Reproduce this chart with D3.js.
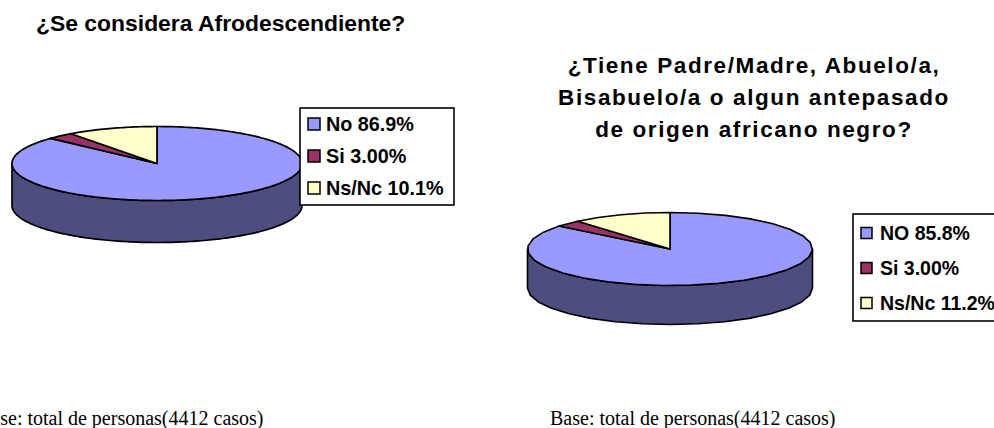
<!DOCTYPE html>
<html><head><meta charset="utf-8">
<script src="https://cdn.jsdelivr.net/npm/d3@7"></script>
<style>html,body{margin:0;padding:0;background:#fff;overflow:hidden}svg{display:block}</style>
</head><body><svg id="c" width="994" height="428"></svg>
<script>
const categoriesLeft = ["No","Si","Ns/Nc"];
const valuesLeft = [86.9,3.0,10.1];
const labelsLeft = ["86.9%","3.00%","10.1%"];
const categoriesRight = ["NO","Si","Ns/Nc"];
const valuesRight = [85.8,3.0,11.2];
const labelsRight = ["85.8%","3.00%","11.2%"];
const colors = ["#9999ff","#993366","#ffffcc"];
const sideColor = "#4d4d80";
const titleLeft = ["¿Se considera Afrodescendiente?"];
const titleRight = ["¿Tiene Padre/Madre, Abuelo/a,","Bisabuelo/a o algun antepasado","de origen africano negro?"];
const footer = "Base: total de personas(4412 casos)";

const svg = d3.select("#c");
const SANS = "'Liberation Sans',Arial,sans-serif", SERIF = "'Liberation Serif','Times New Roman',serif";

function drawPie(vals, g){
  const pie = d3.pie().sort(null).value(d=>d)(vals);
  const pt = a => [g.cx + g.rx*Math.sin(a), g.cy - g.ry*Math.cos(a)];
  const n = g.step;
  const angles = (a0,a1)=>{const k=Math.max(1,Math.round((a1-a0)/n));return d3.range(k+1).map(i=>a0+(a1-a0)*i/k)};
  const line = d3.line().curve(g.curve);
  const lower = angles(Math.PI/2, 3*Math.PI/2);
  const top = lower.map(pt);
  const bottom = lower.map(pt).map(p=>[p[0],p[1]+g.depth]).reverse();
  const wall = line(top) + "L" + line(bottom).slice(1) + "Z";
  svg.append("path").attr("d",wall).attr("fill",sideColor).attr("stroke","#000").attr("stroke-width",g.sw).attr("stroke-linejoin","round");
  svg.selectAll(null).data(pie).join("path")
    .attr("d",d=>{
      const rim = angles(d.startAngle,d.endAngle).map(pt);
      return "M"+g.cx+","+g.cy+"L"+line(rim).slice(1)+"Z";
    })
    .attr("fill",(d,i)=>colors[i]).attr("stroke","#000").attr("stroke-width",g.sw).attr("stroke-linejoin","round");
}
function drawLegend(cats, labels, L){
  svg.append("rect").attr("x",L.x).attr("y",L.y).attr("width",L.w).attr("height",L.h)
    .attr("fill","#fff").attr("stroke","#000").attr("stroke-width",1.6);
  cats.forEach((c,i)=>{
    const y = L.y0 + i*L.dy;
    svg.append("rect").attr("x",L.sx).attr("y",y-L.ss/2).attr("width",L.ss).attr("height",L.ss)
      .attr("fill",colors[i]).attr("stroke","#000").attr("stroke-width",1.5);
    svg.append("text").attr("x",L.tx).attr("y",y+L.fs*0.36).attr("font-family",SANS).attr("font-weight","bold")
      .attr("font-size",L.fs).attr("letter-spacing",L.ls).attr("fill","#000").text(c+" "+labels[i]);
  });
}
drawPie(valuesLeft,{cx:157,cy:163.5,rx:145,ry:37,depth:42,sw:1.7,step:0.02,curve:d3.curveLinear});
drawPie(valuesRight,{cx:670,cy:249,rx:142.5,ry:36.5,depth:39,sw:1.6,step:0.2,curve:d3.curveLinear});
drawLegend(categoriesLeft,labelsLeft,{x:300,y:108,w:154,h:97,y0:124,dy:32,sx:308,ss:12,tx:326,fs:19.8,ls:0});
drawLegend(categoriesRight,labelsRight,{x:853,y:214,w:160,h:107,y0:233,dy:35,sx:861,ss:11,tx:880,fs:19.5,ls:0});

svg.append("text").attr("x",36).attr("y",30.5).attr("font-family",SANS).attr("font-weight","bold").attr("font-size",22.9).text(titleLeft[0]);
svg.selectAll(null).data(titleRight).join("text")
  .attr("x",754).attr("y",(d,i)=>73+i*32).attr("text-anchor","middle")
  .attr("font-family",SANS).attr("font-weight","bold").attr("font-size",22.5).attr("letter-spacing",1.6).text(d=>d);
[-22,550].forEach(x=>svg.append("text").attr("x",x).attr("y",425).attr("font-family",SERIF).attr("font-size",20).text(footer));
</script></body></html>
